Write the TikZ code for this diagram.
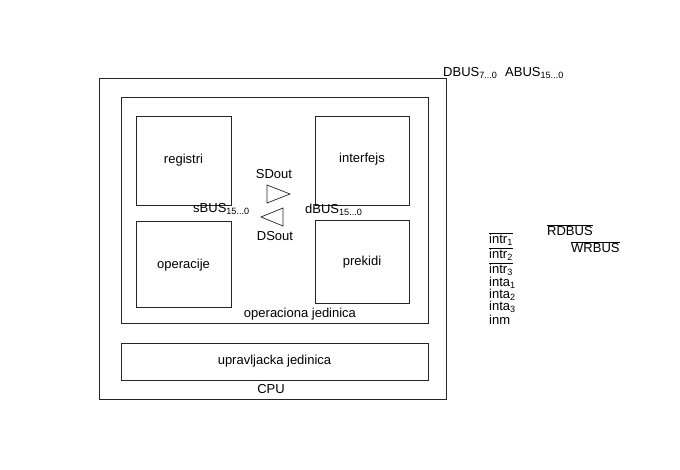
\documentclass[tikz,border=0pt]{standalone}
\usepackage{fontspec}
\setmainfont{Liberation Sans}
\begin{document}
\begin{tikzpicture}[x=1pt,y=-1pt,
  box/.style={draw=black!85,line width=0.9pt},
  lbl/.style={font=\fontsize{13}{15}\selectfont,inner sep=0pt},
  sig/.style={font=\fontsize{13}{15}\selectfont,inner sep=0pt,anchor=west}]
\useasboundingbox[fill=white] (0,0) rectangle (680,470);
\draw[box] (99,78) rectangle (446,399) coordinate (cpu);
\draw[box] (121,97) rectangle (428,323) coordinate (opj);
\draw[box] (136,116) rectangle (231,205) coordinate (reg);
\draw[box] (315,116) rectangle (409,205) coordinate (intf);
\draw[box] (136,221) rectangle (231,307) coordinate (oper);
\draw[box] (315,220) rectangle (409,303) coordinate (prek);
\draw[box] (121,343) rectangle (428,380) coordinate (upr);
\node[lbl] (lreg) at (183.5,160) {registri};
\node[lbl] (lintf) at (362,159) {interfejs};
\node[lbl] (loper) at (183.5,265) {operacije};
\node[lbl] (lprek) at (362,262) {prekidi};
\node[lbl] (lopj) at (300,314) {operaciona jedinica};
\node[lbl] (lupr) at (274.5,361) {upravljacka jedinica};
\node[lbl] (lcpu) at (271,389) {CPU};
\draw[box,line width=0.7pt] (267,185) coordinate (t1) -- (290,194) -- (267,203) -- cycle;
\draw[box,line width=0.7pt] (283,208) coordinate (t2) -- (261,217) -- (283,226) -- cycle;
\node[lbl] (sdout) at (274,174) {SDout};
\node[lbl] (dsout) at (275,236) {DSout};
\node[sig] (sbus) at (193,209) {sBUS\textsubscript{15...0}};
\node[sig] (dbus) at (305,210) {dBUS\textsubscript{15...0}};
\node[sig] (DBUS) at (443,73) {DBUS\textsubscript{7...0}};
\node[sig] (ABUS) at (505,73) {ABUS\textsubscript{15...0}};
\node[sig] (i1) at (489,239) {$\overline{\hbox{intr\textsubscript{1}}}$};
\node[sig] (i2) at (489,254) {$\overline{\hbox{intr\textsubscript{2}}}$};
\node[sig] (i3) at (489,269) {$\overline{\hbox{intr\textsubscript{3}}}$};
\node[sig] (a1) at (489,283) {inta\textsubscript{1}};
\node[sig] (a2) at (489,295) {inta\textsubscript{2}};
\node[sig] (a3) at (489,307) {inta\textsubscript{3}};
\node[sig] (inm) at (489,320) {inm};
\node[sig] (rd) at (547,230) {$\overline{\hbox{RDBUS}}$};
\node[sig] (wr) at (571,247) {$\overline{\hbox{WRBUS}}$};
\end{tikzpicture}
\end{document}
